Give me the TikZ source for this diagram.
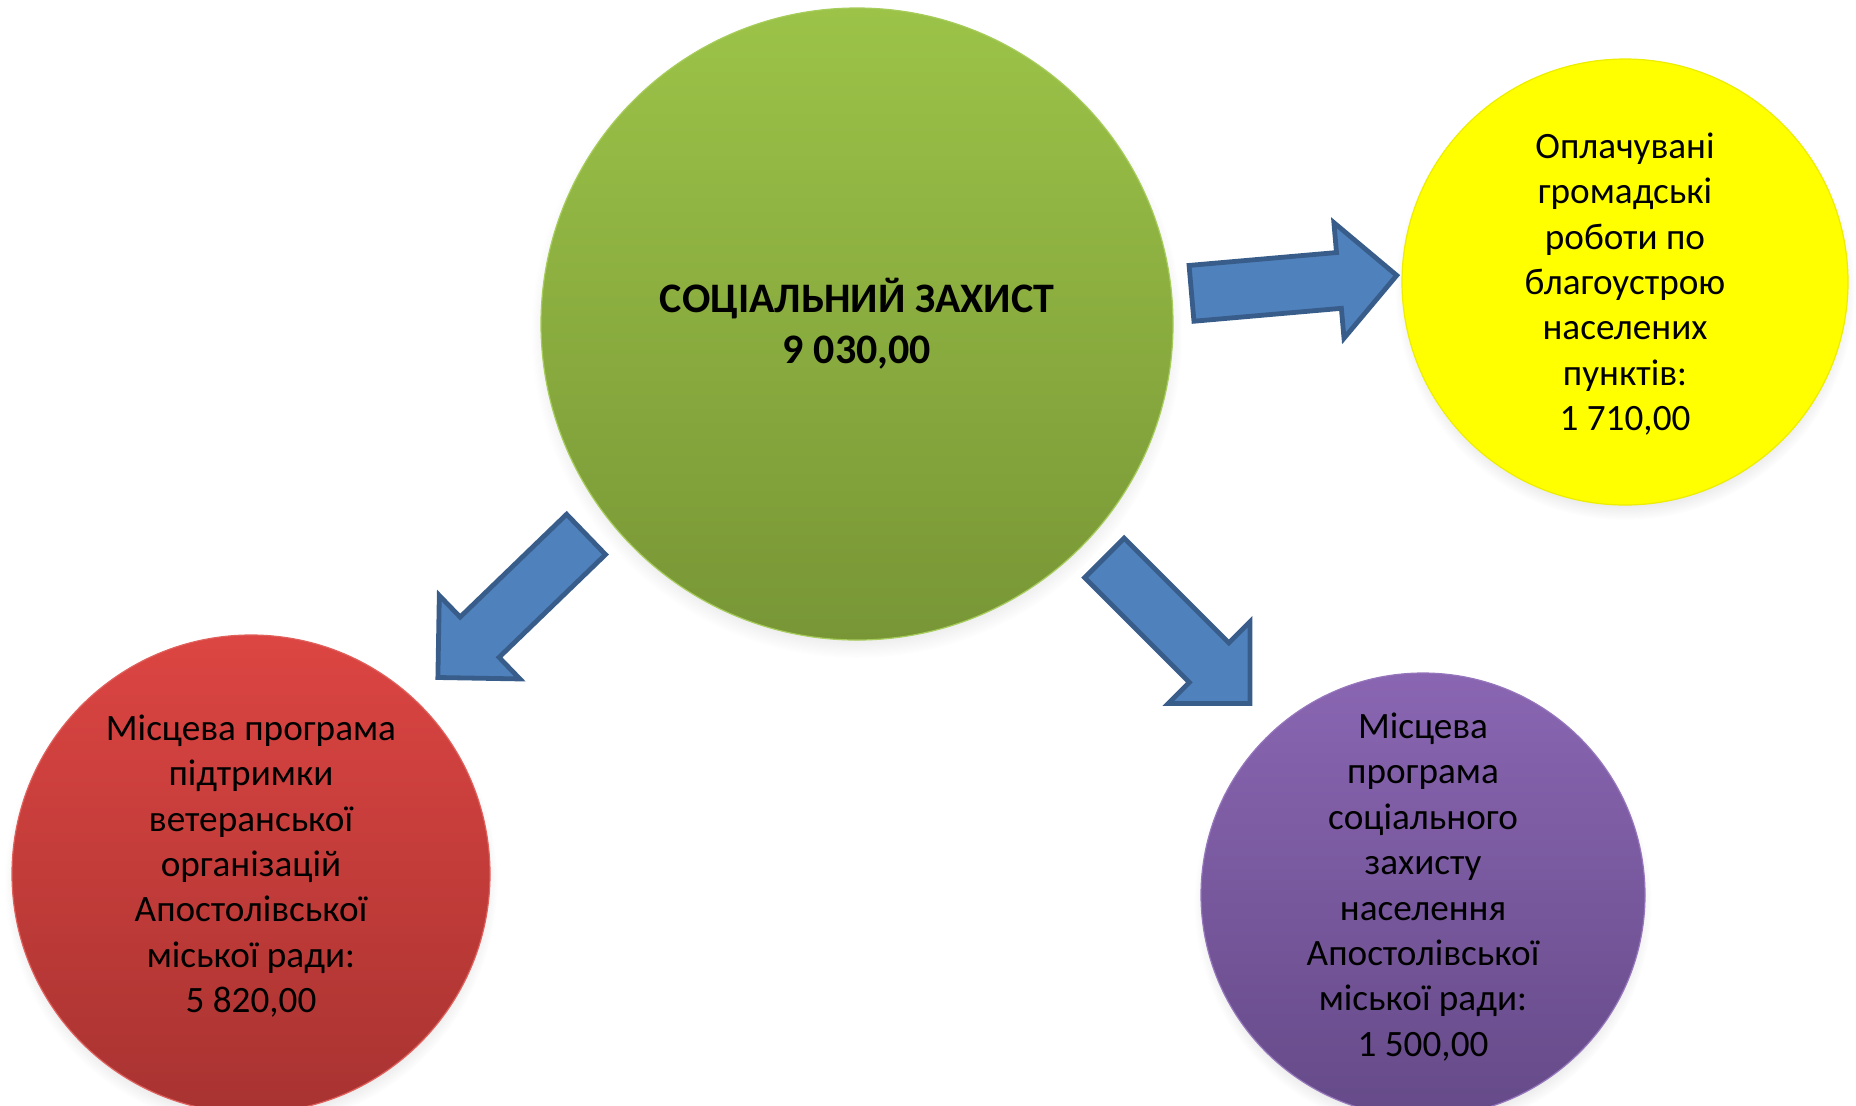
\documentclass[tikz,border=0pt]{standalone}
\usepackage{fontspec}
\setmainfont{Carlito}
\usetikzlibrary{shadows}

\definecolor{greentop}{HTML}{9CC348}
\definecolor{greenbot}{HTML}{789636}
\definecolor{greenrim}{HTML}{A6CC5A}
\definecolor{redtop}{HTML}{DC4542}
\definecolor{redbot}{HTML}{A83331}
\definecolor{redrim}{HTML}{E0605C}
\definecolor{purptop}{HTML}{8A66B2}
\definecolor{purpbot}{HTML}{654A88}
\definecolor{purprim}{HTML}{9676BC}
\definecolor{yelfill}{HTML}{FFFF00}
\definecolor{yelrim}{HTML}{EDED00}
\definecolor{arrfill}{HTML}{4F81BD}
\definecolor{arrline}{HTML}{385D8A}

\tikzset{
  bubble/.style={circle, inner sep=0pt, line width=0.6pt,
    circular drop shadow={shadow scale=1.03, shadow xshift=0pt, shadow yshift=-4pt, opacity=0.35}},
  bigtext/.style={align=center, font=\fontsize{21}{25.5}\selectfont\bfseries},
  progtext/.style={align=center, font=\fontsize{18.6}{22.7}\selectfont},
  arrowbody/.style={fill=arrfill, draw=arrline, line width=2.4pt, line join=miter},
  blockarrow/.pic={
    \draw[arrowbody] (2,-28) -- (150,-28) -- (150,-58) -- (208,0) -- (150,58) -- (150,28) -- (2,28) -- cycle;
  }
}

\begin{document}
\begin{tikzpicture}[x=0.5pt, y=-0.5pt]
\useasboundingbox (0,0) rectangle (1856,1105);

% circles
\node[bubble, minimum size=316pt, top color=greentop, bottom color=greenbot, draw=greenrim] (soc) at (857,324) {};
\node[bubble, minimum size=223pt, fill=yelfill, draw=yelrim] (work) at (1625,282) {};
\node[bubble, minimum size=239pt, top color=redtop, bottom color=redbot, draw=redrim] (vet) at (251,874) {};
\node[bubble, minimum size=222pt, top color=purptop, bottom color=purpbot, draw=purprim] (prot) at (1423,895) {};

% texts
\node[bigtext] (soctxt) at (soc.center) {СОЦІАЛЬНИЙ ЗАХИСТ\\9 030,00};
\node[progtext] (worktxt) at ([yshift=-1pt]work.center) {Оплачувані\\громадські\\роботи по\\благоустрою\\населених\\пунктів:\\1 710,00};
\node[progtext] (vettxt) at ([yshift=4pt]vet.center) {Місцева програма\\підтримки\\ветеранської\\організацій\\Апостолівської\\міської ради:\\5 820,00};
\node[progtext] (prottxt) at ([yshift=4pt]prot.center) {Місцева\\програма\\соціального\\захисту\\населення\\Апостолівської\\міської ради:\\1 500,00};

% arrows
\pic[rotate=5] (toWork) at (1189.5,293.5) {blockarrow};
\pic[rotate=224] (toVet) at (587.5,533) {blockarrow};
\pic[rotate=-45] (toProt) at (1103,556.5) {blockarrow};

\end{tikzpicture}
\end{document}
